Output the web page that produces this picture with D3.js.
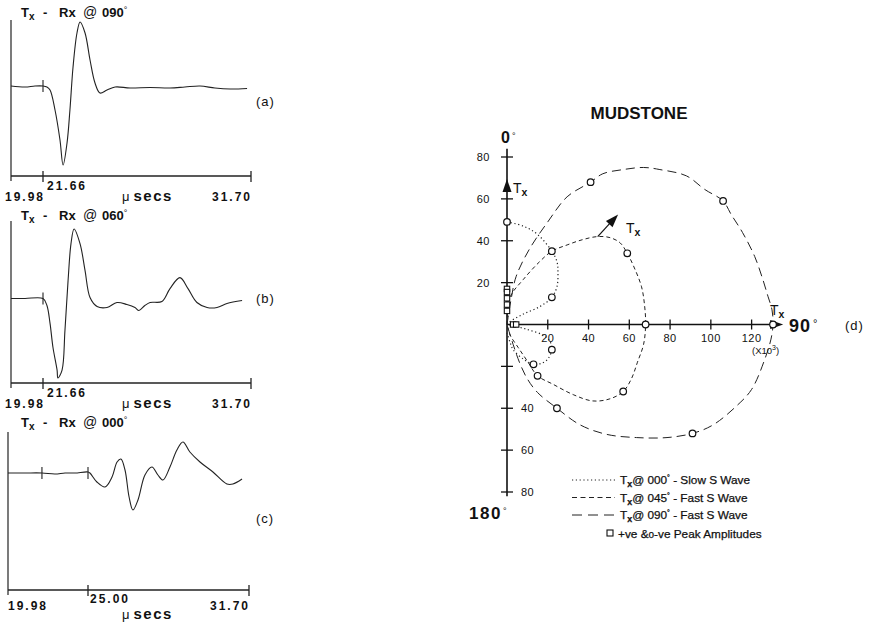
<!DOCTYPE html>
<html>
<head>
<meta charset="utf-8">
<script src="https://cdn.jsdelivr.net/npm/d3@7/dist/d3.min.js"></script>
<style>
body { margin: 0; background: #fff; }
text { font-family: "Liberation Sans", Arial, sans-serif; fill: #111; }
</style>
</head>
<body>
<svg id="chart" width="869" height="624"></svg>
<script>
// receiver traces, [time (us), amplitude (arbitrary)]
var trace090 = [[19.98,0],[20.72,-1],[21.24,0],[21.66,0],[21.85,-1],[22.00,-4],[22.24,-24],[22.48,-54],[22.63,-79],
    [22.82,-57],[22.96,-24],[23.11,19],[23.30,53],[23.45,64],[23.69,53],[23.93,26],[24.17,3],[24.41,-7],[24.75,-4],
    [25.14,-1],[25.86,-2],[26.83,-1.5],[27.79,-2],[28.51,-1],[29.24,0],[29.96,-2],[30.69,-3],[31.51,-2.5]];
var trace060 = [[19.98,0],[20.72,0],[21.66,0],[21.85,-7],[22.00,-25],[22.14,-49],[22.34,-72],[22.38,-80],[22.58,-72],
    [22.72,-32],[22.87,18],[23.01,55],[23.16,70],[23.45,55],[23.69,28],[23.93,1],[24.27,-8],[24.75,-9],[25.23,-4],
    [25.71,-6],[26.10,-9],[26.29,-12],[26.58,-7],[26.83,-4],[27.40,-3],[27.79,10],[28.27,21],[28.66,10],[29.09,-4],
    [29.58,-9],[30.06,-9],[30.54,-5],[31.27,-2]];
var trace000 = [[19.98,0],[21.05,0],[22.11,0],[22.93,-1],[23.56,0],[24.18,0],[25.00,1],[25.08,0],[25.37,-9],[25.71,-14],
    [26.00,-4],[26.21,11],[26.37,14],[26.54,3],[26.71,-24],[26.87,-37],[27.08,-27],[27.37,-2],[27.66,6],[27.91,-2],
    [28.12,-7],[28.41,6],[28.70,23],[28.95,31],[29.24,21],[29.66,11],[30.20,1],[30.78,-11],[31.03,-11],[31.41,-6]];
var traceAngles = ["090", "060", "000"];
var traceTags = ["(a)", "(b)", "(c)"];
var timeTicksAB = [19.98, 21.66, 31.70];
var timeTicksC = [19.98, 25.00, 31.70];
var traceMarksAB = [21.66];
var traceMarksC = [22.11, 25.00];

// polar plot, amplitude components (x10^3): [toward 90deg, toward 0deg]
var slowS000 = [[0,49],[8,47],[15,43],[22,35],[24.5,30],[25,25],[24.5,18],[22,13],[16,8.5],[8,5],[1.5,1.4],[0,0],
    [3,-0.5],[10,-2.4],[17.5,-5],[21,-8],[22,-12],[20,-16.5],[17,-18.5],[13,-19],[8,-16.5],[3,-12],[1.5,-8.5],[0,-4]];
var fastS045 = [[0,0],[1.5,13],[8,21.5],[16,30],[22,35],[29.5,38],[37,40.5],[44.5,42],[50.5,41.5],[55.5,39],[59,34],
    [62.5,27],[66,18],[67.5,9],[68,0],[67,-9.5],[64,-18],[61,-26],[57,-32],[50.5,-35.5],[42,-36.5],[32.5,-33.5],
    [22.5,-28.5],[15,-24.5],[10,-17.5],[5.5,-11],[1.5,-5],[0,0]];
var fastS090 = [[0,0],[2,12],[4.5,23],[11,36],[20,49],[29.5,61],[41,68],[47,72],[57,74],[67,75],[75,74],[88,71],
    [97,64.5],[106,59],[110,52.5],[115.5,44],[121.5,32.5],[125.5,21.5],[128,13.5],[130,7],[130.5,0],[129.5,-7],
    [126.5,-16.5],[120,-31],[112.5,-39],[101,-48],[91,-52],[78.5,-54],[63.5,-54],[49,-52.5],[36,-48],[24.5,-40],
    [15,-32.5],[10,-26],[6.5,-19],[3,-9.5],[0,0]];
var negPeaks = [[0,49],[22,35],[22,13],[22,-12],[13,-19],[59,34],[68,0],[57,-32],[15,-24.5],[41,68],[106,59],
    [91,-52],[24.5,-40],[130.5,0]];
var posPeaks = [[0,17],[0,15.5],[0,12.5],[0,9.5],[0,6.5],[3,0],[4.5,0]];
var ampTicksX = [20, 40, 60, 80, 100, 120];
var ampTicksUp = [20, 40, 60, 80];
var ampTicksDown = [-20, -40, -60, -80];
var legendItems = ["000", "045", "090"];
var legendNames = ["Slow S Wave", "Fast S Wave", "Fast S Wave"];

var svg = d3.select("#chart");

// ---------- left: three traces ----------
var panels = [
    {data: trace090, ticks: timeTicksAB, marks: traceMarksAB, xr: [11, 43, 251], top: 20, bot: 176, amp: [-90, 66], title: 17, lab: 101},
    {data: trace060, ticks: timeTicksAB, marks: traceMarksAB, xr: [11, 43, 251], top: 221, bot: 383, amp: [-85, 78], title: 220, lab: 298},
    {data: trace000, ticks: timeTicksC, marks: traceMarksC, xr: [8, 88, 249], top: 432, bot: 590, amp: [-117, 41], title: 427, lab: 518}
];

panels.forEach(function(p, i) {
    var g = svg.append("g");
    var x = d3.scaleLinear().domain(p.ticks).range(p.xr);
    var y = d3.scaleLinear().domain(p.amp).range([p.bot, p.top]);

    g.append("line").attr("x1", x(p.ticks[0])).attr("x2", x(p.ticks[0]))
        .attr("y1", p.top).attr("y2", p.bot + 5).attr("stroke", "#222").attr("stroke-width", 1.2);
    g.append("line").attr("x1", x(p.ticks[0])).attr("x2", x(p.ticks[2]))
        .attr("y1", p.bot).attr("y2", p.bot).attr("stroke", "#222").attr("stroke-width", 1.6);
    p.ticks.slice(1).forEach(function(t) {
        g.append("line").attr("x1", x(t)).attr("x2", x(t))
            .attr("y1", p.bot - 5).attr("y2", p.bot + 6).attr("stroke", "#222").attr("stroke-width", 1.3);
    });
    p.marks.forEach(function(t) {
        g.append("line").attr("x1", x(t)).attr("x2", x(t))
            .attr("y1", y(0) - 6).attr("y2", y(0) + 6).attr("stroke", "#222").attr("stroke-width", 1.1);
    });

    var line = d3.line().x(function(d) { return x(d[0]); }).y(function(d) { return y(d[1]); })
        .curve(d3.curveCatmullRom.alpha(0.5));
    g.append("path").datum(p.data).attr("d", line)
        .attr("fill", "none").attr("stroke", "#222").attr("stroke-width", 1.1);

    // tick labels
    var low = p.bot + 25, mid = p.bot + 14;
    if (i == 2) { low = p.bot + 20; mid = p.bot + 13; }
    function lab(txt, xx, yy, anchor) {
        g.append("text").attr("x", xx).attr("y", yy).attr("text-anchor", anchor)
            .style("font-size", "12px").style("font-weight", "bold").style("letter-spacing", "2px")
            .text(txt);
    }
    lab(p.ticks[0].toFixed(2), i == 2 ? 8 : 5, low, "start");
    lab(p.ticks[1].toFixed(2), x(p.ticks[1]) + (i == 2 ? 2 : 4), mid, "start");
    lab(p.ticks[2].toFixed(2), x(p.ticks[2]) + 1, low, "end");
    var uy = i == 2 ? p.bot + 29 : low;
    var u = g.append("text").attr("x", 122).attr("y", uy);
    u.append("tspan").style("font-size", "13px").text("\u03bc");
    u.append("tspan").attr("dx", 4).style("font-size", "15px").style("font-weight", "bold")
        .style("letter-spacing", "1.5px").text("secs");

    // title
    var tt = g.append("text").attr("x", 21).attr("y", p.title).style("font-weight", "bold").style("font-size", "13px");
    tt.append("tspan").text("T");
    tt.append("tspan").attr("dy", 3).style("font-size", "10px").text("x");
    tt.append("tspan").attr("x", 43).attr("dy", -3).text("-");
    tt.append("tspan").attr("x", 59).text("Rx");
    tt.append("tspan").attr("x", 83).style("font-weight", "normal").style("font-size", "14px").text("@");
    tt.append("tspan").attr("x", 102).text(traceAngles[i]);
    tt.append("tspan").attr("dy", -4).style("font-weight", "normal").style("font-size", "9px").text("\u00b0");

    g.append("text").attr("x", 256).attr("y", p.lab + 5).style("font-size", "13px")
        .style("letter-spacing", "1px").text(traceTags[i]);
});

// ---------- right: polar amplitude plot ----------
var px = d3.scaleLinear().domain([0, 130]).range([507, 772]);
var py = d3.scaleLinear().domain([-80, 80]).range([492, 157]);
var pg = svg.append("g");

pg.append("text").attr("x", 639).attr("y", 119).attr("text-anchor", "middle")
    .style("font-size", "17px").style("font-weight", "bold").text("MUDSTONE");

// axes
pg.append("line").attr("x1", px(0)).attr("x2", px(0)).attr("y1", py(84)).attr("y2", py(-82))
    .attr("stroke", "#111").attr("stroke-width", 1.6);
pg.append("line").attr("x1", px(0)).attr("x2", px(130)).attr("y1", py(0)).attr("y2", py(0))
    .attr("stroke", "#111").attr("stroke-width", 1.6);
ampTicksX.forEach(function(v) {
    pg.append("line").attr("x1", px(v)).attr("x2", px(v)).attr("y1", py(0) - 5).attr("y2", py(0) + 5)
        .attr("stroke", "#111").attr("stroke-width", 1.3);
    pg.append("text").attr("x", px(v)).attr("y", py(0) + 17).attr("text-anchor", "middle")
        .style("font-size", "11px").style("letter-spacing", "0.5px").text(v);
});
ampTicksUp.concat(ampTicksDown).forEach(function(v) {
    pg.append("line").attr("x1", px(0) - 6).attr("x2", px(0) + 6).attr("y1", py(v)).attr("y2", py(v))
        .attr("stroke", "#111").attr("stroke-width", 1.3);
});
ampTicksUp.forEach(function(v) {
    pg.append("text").attr("x", 490).attr("y", py(v) + 4).attr("text-anchor", "end")
        .style("font-size", "11px").style("letter-spacing", "0.5px").text(v);
});
ampTicksDown.slice(1).forEach(function(v) {
    pg.append("text").attr("x", 521).attr("y", py(v) + 4)
        .style("font-size", "11px").style("letter-spacing", "0.5px").text(-v);
});

var sub = function(sel) {
    sel.append("tspan").text("T");
    sel.append("tspan").attr("dy", 3).style("font-size", "0.75em").style("font-weight", "bold").text("x");
};

// direction labels
var d0 = pg.append("text").attr("x", 501).attr("y", 143).style("font-size", "16px").style("font-weight", "bold");
d0.append("tspan").text("0");
d0.append("tspan").attr("dx", 2).attr("dy", -4).style("font-size", "9px").style("font-weight", "normal").text("\u00b0");
var d180 = pg.append("text").attr("x", 469).attr("y", 519).style("font-size", "17px").style("font-weight", "bold")
    .style("letter-spacing", "1.5px");
d180.append("tspan").text("180");
d180.append("tspan").attr("dx", 1).attr("dy", -5).style("font-size", "9px").style("font-weight", "normal").text("\u00b0");
var d90 = pg.append("text").attr("x", 789).attr("y", 332).style("font-size", "18px").style("font-weight", "bold")
    .style("letter-spacing", "1px");
d90.append("tspan").text("90");
d90.append("tspan").attr("dx", 2).attr("dy", -5).style("font-size", "11px").style("font-weight", "normal").text("\u00b0");
pg.append("text").attr("x", 845).attr("y", 330).style("font-size", "13px").style("letter-spacing", "1px").text("(d)");

var xl = pg.append("text").attr("x", 752).attr("y", 354).style("font-size", "9.5px");
xl.append("tspan").text("(X10");
xl.append("tspan").attr("dy", -4).style("font-size", "7px").text("3");
xl.append("tspan").attr("dy", 4).text(")");

// curves
var pline = d3.line().x(function(d) { return px(d[0]); }).y(function(d) { return py(d[1]); })
    .curve(d3.curveCatmullRom.alpha(0.5));
var dashes = ["1.2,2.6", "4,3", "9,5"];
[slowS000, fastS045, fastS090].forEach(function(c, i) {
    pg.append("path").datum(c).attr("d", pline).attr("fill", "none")
        .attr("stroke", "#222").attr("stroke-width", i == 0 ? 1.2 : 1)
        .attr("stroke-dasharray", dashes[i]);
});

// arrows for transmitter direction
function arrowHead(x1, y1, x2, y2) {
    var a = Math.atan2(y2 - y1, x2 - x1), L = 13, W = 4.5;
    var bx = x2 - L * Math.cos(a), by = y2 - L * Math.sin(a);
    var pts = [[x2, y2], [bx + W * Math.sin(a), by - W * Math.cos(a)], [bx - W * Math.sin(a), by + W * Math.cos(a)]];
    pg.append("path").attr("d", "M" + pts.join("L") + "Z").attr("fill", "#111");
}
arrowHead(px(0), py(60), px(0), py(69.5));
pg.append("line").attr("x1", px(44.5)).attr("y1", py(42)).attr("x2", px(52)).attr("y2", py(50))
    .attr("stroke", "#111").attr("stroke-width", 1.2);
arrowHead(px(44.5), py(42), px(54.5), py(52.5));
arrowHead(px(130), py(0), px(135.5), py(0));

[[513, 193], [626, 233], [770, 315]].forEach(function(p) {
    var t = pg.append("text").attr("x", p[0]).attr("y", p[1]).style("font-size", "14px");
    sub(t);
});

// peak markers
pg.selectAll("circle.neg").data(negPeaks).enter().append("circle")
    .attr("cx", function(d) { return px(d[0]); }).attr("cy", function(d) { return py(d[1]); })
    .attr("r", 3.3).attr("fill", "#fff").attr("stroke", "#111").attr("stroke-width", 1.2);
pg.selectAll("rect.pos").data(posPeaks).enter().append("rect")
    .attr("x", function(d) { return px(d[0]) - 2.7; }).attr("y", function(d) { return py(d[1]) - 2.7; })
    .attr("width", 5.4).attr("height", 5.4).attr("fill", "#fff").attr("stroke", "#111").attr("stroke-width", 1.1);

// legend
var lg = pg.append("g");
legendItems.forEach(function(a, i) {
    var yy = 480 + i * 17.5;
    lg.append("line").attr("x1", 572).attr("x2", 615).attr("y1", yy).attr("y2", yy)
        .attr("stroke", "#222").attr("stroke-width", 1).attr("stroke-dasharray", i == 0 ? "1.2,2.6" : (i == 1 ? "5,3.5" : "10,6"));
    var t = lg.append("text").attr("x", 620).attr("y", yy + 4).style("font-size", "11.8px")
        .style("stroke", "#111").style("stroke-width", "0.25px");
    sub(t);
    t.append("tspan").attr("dy", -3).text("@ " + a);
    t.append("tspan").attr("dy", -4).style("font-size", "7px").text("\u00b0");
    t.append("tspan").attr("dy", 4).text(" - " + legendNames[i]);
});
lg.append("rect").attr("x", 607).attr("y", 530).attr("width", 6).attr("height", 6)
    .attr("fill", "#fff").attr("stroke", "#111").attr("stroke-width", 1.1);
var lt = lg.append("text").attr("x", 618).attr("y", 538).style("font-size", "11.8px")
    .style("stroke", "#111").style("stroke-width", "0.25px");
lt.append("tspan").text("+ve &");
lt.append("tspan").style("font-size", "10px").text("o");
lt.append("tspan").text("-ve Peak Amplitudes");
</script>
</body>
</html>
